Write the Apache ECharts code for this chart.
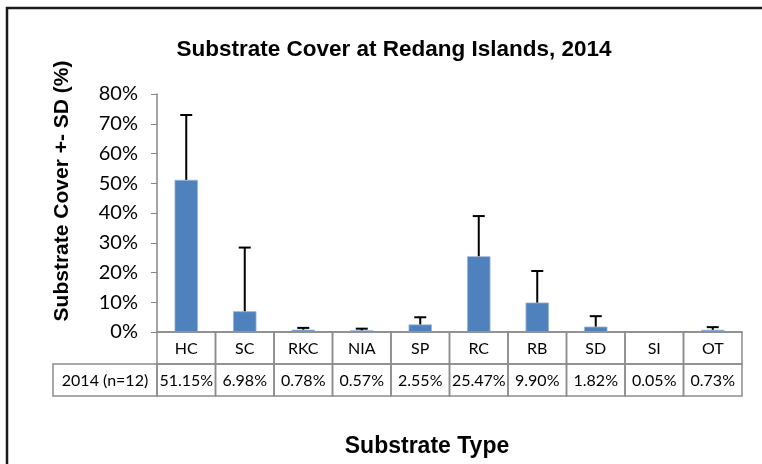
<!DOCTYPE html>
<html>
<head>
<meta charset="utf-8">
<script src="https://cdn.jsdelivr.net/npm/echarts@6/dist/echarts.min.js"></script>
<style>
html,body{margin:0;padding:0;background:#fff;}
#chart{width:762px;height:464px;}
</style>
</head>
<body>
<div id="chart"></div>
<script>
var categories = ['HC','SC','RKC','NIA','SP','RC','RB','SD','SI','OT'];
var coverValues = [51.15, 6.98, 0.78, 0.57, 2.55, 25.47, 9.90, 1.82, 0.05, 0.73];
var sdValues = [21.8, 21.4, 0.6, 0.55, 2.4, 13.5, 10.6, 3.5, 0, 0.9];
var rowLabel = '2014 (n=12)';
var yTicks = [0,10,20,30,40,50,60,70,80];

var FONT = 'Lato, "Liberation Sans", sans-serif';
var BFONT = '"Liberation Sans", Arial, sans-serif';
var chart = echarts.init(document.getElementById('chart'));

var errData = categories.map(function(c,i){ return [i, coverValues[i], sdValues[i]]; });
var tableData = categories.map(function(c,i){ return [i, 0]; });

var option = {
  animation: false,
  backgroundColor: '#fff',
  title: {
    text: 'Substrate Cover at Redang Islands, 2014',
    left: 389, top: 33, textAlign: 'center',
    textStyle: {fontFamily: BFONT, fontSize: 22.5, fontWeight: 'bold', color: '#000'}
  },
  grid: {left: 157, right: 20, top: 94, bottom: 132, containLabel: false},
  xAxis: {
    type: 'category', data: categories,
    axisLine: {lineStyle: {color: '#868686', width: 1.5}},
    axisTick: {show: false},
    axisLabel: {show: false}
  },
  yAxis: {
    type: 'value', min: yTicks[0], max: yTicks[yTicks.length-1], interval: 10,
    axisLine: {show: true, lineStyle: {color: '#868686', width: 1.5}},
    axisTick: {show: true, length: 6, lineStyle: {color: '#868686'}},
    splitLine: {show: false},
    axisLabel: {formatter: '{value}%', margin: 19, fontFamily: FONT, fontSize: 20, color: '#000'}
  },
  graphic: [
    {type: 'rect', shape: {x: 7, y: 8, width: 800, height: 500}, style: {fill: 'none', stroke: '#1a1a1a', lineWidth: 2.5}, silent: true},
    {type: 'text', x: 62, y: 191, rotation: Math.PI/2,
     style: {text: 'Substrate Cover +- SD (%)', fontFamily: BFONT, fontSize: 21, fontWeight: 'bold', fill: '#000', align: 'center', verticalAlign: 'middle'}},
    {type: 'text', x: 427, y: 447,
     style: {text: 'Substrate Type', fontFamily: BFONT, fontSize: 23, fontWeight: 'bold', fill: '#000', align: 'center', verticalAlign: 'middle'}}
  ],
  series: [
    {
      type: 'bar', data: coverValues, barWidth: '40%',
      itemStyle: {color: '#4F81BD', borderColor: '#9bb5d9', borderWidth: 0.8}
    },
    {
      type: 'custom', data: errData, z: 5,
      renderItem: function(params, api){
        var i = api.value(0), v = api.value(1), sd = api.value(2);
        if (!sd) return null;
        var b = api.coord([i, v]);
        var t = api.coord([i, v + sd]);
        var style = {stroke: '#000', lineWidth: 2};
        return {type: 'group', children: [
          {type: 'line', shape: {x1: b[0], y1: b[1], x2: t[0], y2: t[1]}, style: style},
          {type: 'line', shape: {x1: t[0]-6, y1: t[1], x2: t[0]+6, y2: t[1]}, style: style}
        ]};
      }
    },
    {
      type: 'custom', data: tableData, z: 3, clip: false,
      renderItem: function(params, api){
        var i = api.value(0);
        var p = api.coord([i, 0]);
        var w = api.size([1, 0])[0];
        var x0 = p[0] - w/2, y0 = p[1], h = 32;
        var line = {fill: 'none', stroke: '#8c8c8c', lineWidth: 1.5};
        var txt = {fontFamily: FONT, fontSize: 16, fill: '#000', align: 'center', verticalAlign: 'middle'};
        var ch = [
          {type: 'rect', shape: {x: x0, y: y0, width: w, height: h}, style: line},
          {type: 'rect', shape: {x: x0, y: y0 + h, width: w, height: h}, style: line},
          {type: 'text', x: p[0], y: y0 + h/2 + 1, style: Object.assign({text: categories[i]}, txt)},
          {type: 'text', x: p[0], y: y0 + h*1.5 + 1, style: Object.assign({text: coverValues[i].toFixed(2) + '%'}, txt)}
        ];
        if (i === 0) {
          var lw = 104;
          ch.push({type: 'rect', shape: {x: x0 - lw, y: y0 + h, width: lw, height: h}, style: line});
          ch.push({type: 'text', x: x0 - lw/2, y: y0 + h*1.5 + 1, style: Object.assign({text: rowLabel}, txt)});
        }
        return {type: 'group', children: ch};
      }
    }
  ]
};
chart.setOption(option);
</script>
</body>
</html>
